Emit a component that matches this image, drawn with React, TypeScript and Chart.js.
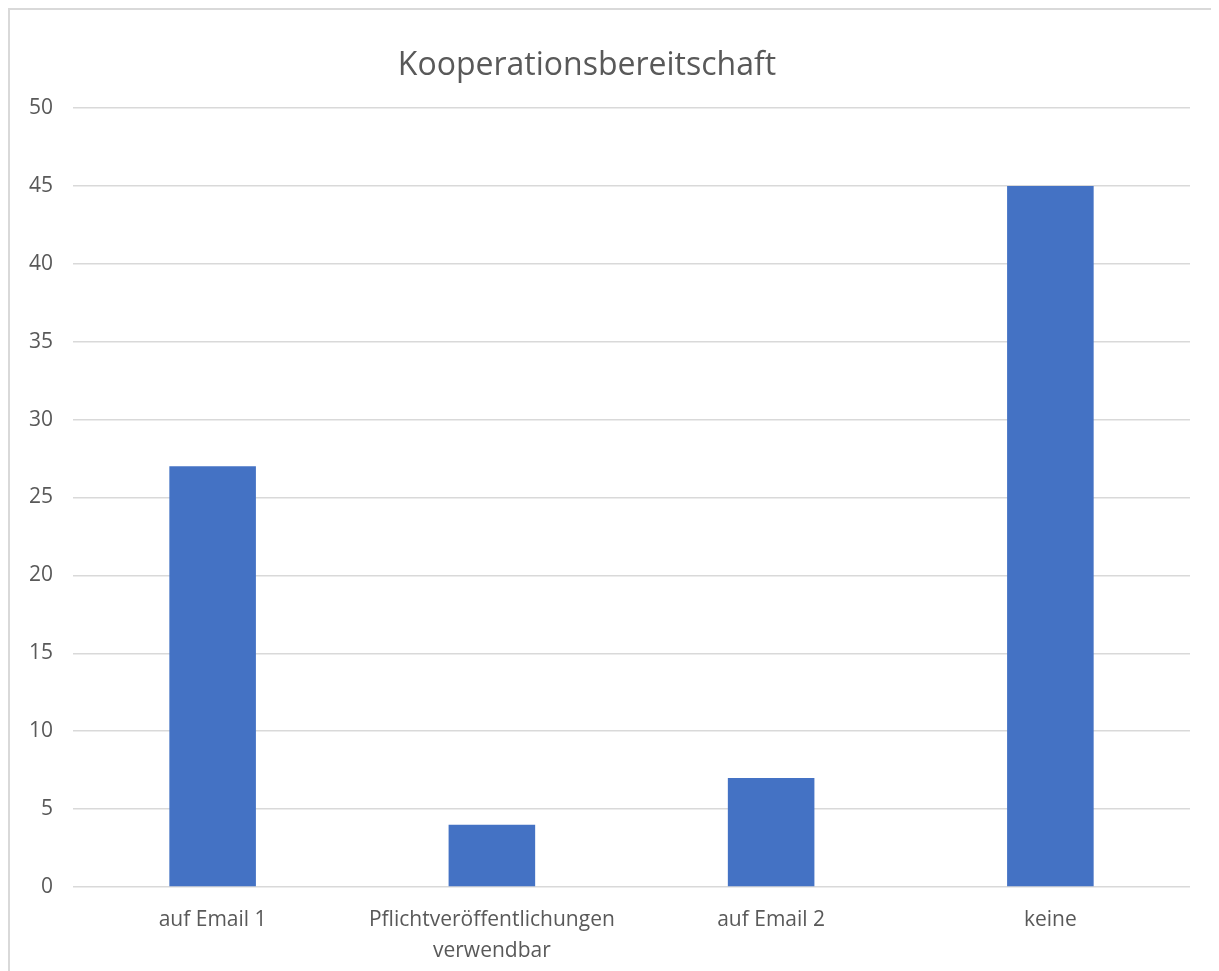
import React, { useEffect, useRef } from "react";
import { Chart, registerables } from "chart.js";

Chart.register(...registerables);

const categories: (string | string[])[] = [
  "auf Email 1",
  ["Pflichtveröffentlichungen", "verwendbar"],
  "auf Email 2",
  "keine",
];
const values: number[] = [27, 4, 7, 45];
const titleText = "Kooperationsbereitschaft";
const yMin = 0;
const yMax = 50;
const yStep = 5;

export default function App() {
  const ref = useRef<HTMLCanvasElement | null>(null);
  useEffect(() => {
    if (!ref.current) return;
    const font = "'Open Sans', 'Noto Sans', sans-serif";
    const chart = new Chart(ref.current, {
      type: "bar",
      data: {
        labels: categories,
        datasets: [
          {
            data: values,
            backgroundColor: "#4472C4",
            barPercentage: 0.31,
            categoryPercentage: 1,
          },
        ],
      },
      options: {
        animation: false,
        responsive: false,
        maintainAspectRatio: false,
        layout: { padding: { left: -26, right: 27, top: 0, bottom: 0 } },
        plugins: {
          legend: { display: false },
          tooltip: { enabled: false },
          title: {
            display: true,
            text: titleText,
            color: "#595959",
            font: { family: font, size: 32, weight: "normal", lineHeight: 1.2 },
            padding: { top: 37, bottom: 22.6 },
          },
        },
        scales: {
          x: {
            grid: { display: false },
            border: { display: false },
            ticks: {
              color: "#595959",
              font: { family: font, size: 21, lineHeight: 1.48 },
              padding: 9,
              maxRotation: 0,
              autoSkip: false,
            },
            afterFit: (s: any) => {
              s.height = 98;
            },
          },
          y: {
            min: yMin,
            max: yMax,
            grid: { color: "#d9d9d9", lineWidth: 1.5, drawTicks: false },
            border: { display: false },
            ticks: {
              stepSize: yStep,
              color: "#595959",
              font: { family: font, size: 21 },
              padding: 20,
            },
            afterFit: (s: any) => {
              s.width = 89;
            },
          },
        },
      },
    });
    return () => chart.destroy();
  }, []);
  return (
    <div
      style={{
        width: 1207,
        height: 975,
        borderTop: "2px solid #d9d9d9",
        borderLeft: "2px solid #d9d9d9",
        borderRight: "2px solid #d9d9d9",
        background: "#fff",
      }}
    >
      <canvas ref={ref} width={1207} height={975} style={{ display: "block" }} />
    </div>
  );
}
